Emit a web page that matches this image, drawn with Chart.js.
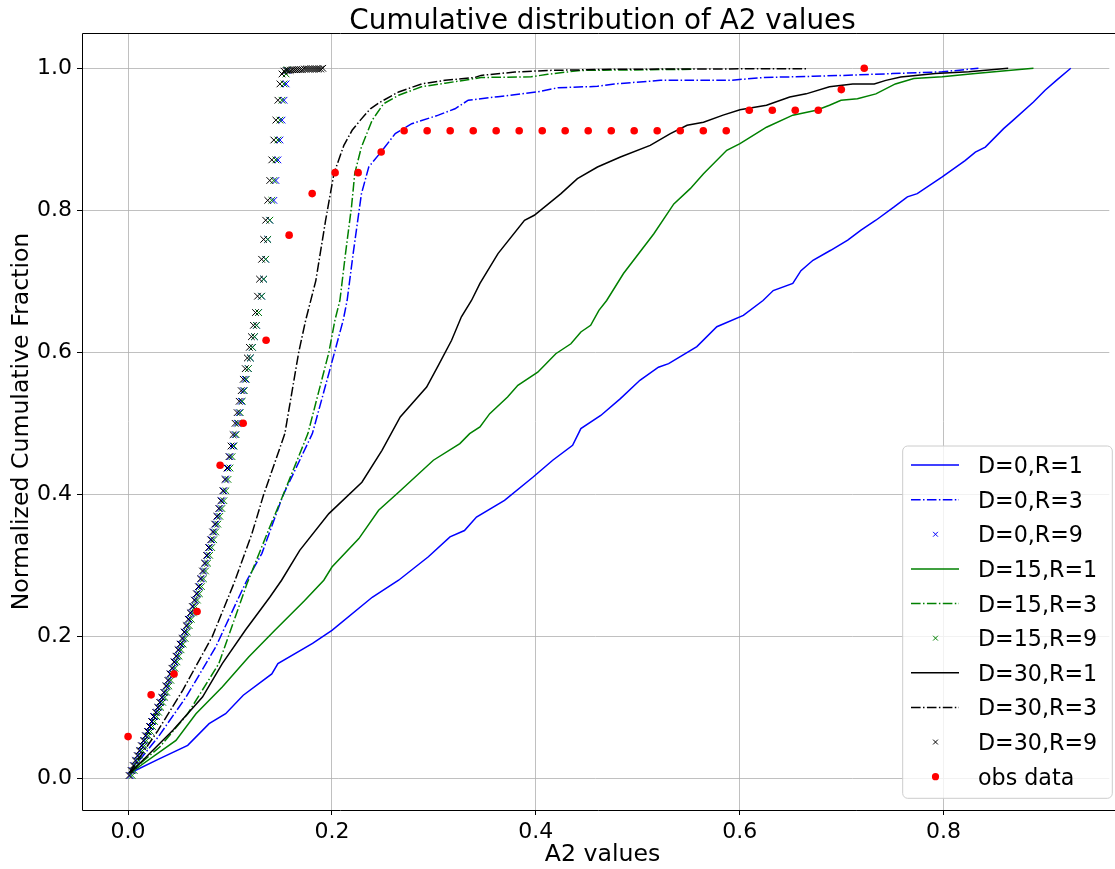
<!DOCTYPE html>
<html>
<head>
<meta charset="utf-8">
<script src="https://cdn.jsdelivr.net/npm/chart.js@4.4.0/dist/chart.umd.min.js"></script>
<style>
  html, body { margin: 0; padding: 0; background: #fff; overflow: hidden; }
  #wrap { width: 1115px; height: 869px; overflow: hidden; }
  canvas { display: block; }
</style>
</head>
<body>
<div id="wrap"><canvas id="cdf" width="1115" height="869"></canvas></div>
<script>
// axis ticks
const xTicks = [0.0, 0.2, 0.4, 0.6, 0.8];
const yTicks = [0.0, 0.2, 0.4, 0.6, 0.8, 1.0];

const seriesLabels = ['D=0,R=1', 'D=0,R=3', 'D=0,R=9', 'D=15,R=1', 'D=15,R=3', 'D=15,R=9',
                      'D=30,R=1', 'D=30,R=3', 'D=30,R=9', 'obs data'];

// D=0,R=1
const d0r1X = [0.002, 0.030, 0.0585, 0.0795, 0.0957, 0.113, 0.141, 0.147, 0.181, 0.200, 0.2395, 0.2654, 0.2946,
  0.3158, 0.330, 0.3418, 0.3693, 0.3971, 0.4166, 0.4361, 0.4442, 0.4637, 0.483, 0.5021, 0.5203, 0.5303, 0.558,
  0.5776, 0.6036, 0.6229, 0.6329, 0.6521, 0.6601, 0.6719, 0.6893, 0.706, 0.719, 0.7336, 0.7515, 0.7645, 0.7742,
  0.7987, 0.8211, 0.8312, 0.841, 0.8589, 0.8684, 0.8882, 0.8996, 0.9107, 0.9248];
const d0r1Y = [0.0075, 0.027, 0.0465, 0.077, 0.091, 0.117, 0.147, 0.1615, 0.19, 0.2085, 0.255, 0.279, 0.312,
  0.34, 0.349, 0.368, 0.3915, 0.424, 0.448, 0.469, 0.4925, 0.511, 0.5348, 0.5606, 0.579, 0.584, 0.608, 0.636,
  0.652, 0.673, 0.687, 0.697, 0.715, 0.7296, 0.7437, 0.758, 0.772, 0.786, 0.8047, 0.819, 0.8235, 0.847, 0.870,
  0.882, 0.889, 0.915, 0.927, 0.9525, 0.969, 0.983, 1.0];

// D=0,R=3
const d0r3X = [0.001, 0.0294, 0.0569, 0.086, 0.107, 0.1166, 0.1312, 0.152, 0.1808, 0.1986, 0.211, 0.2149, 0.2208,
  0.2289, 0.2361, 0.2475, 0.2621, 0.2783, 0.3044, 0.3207, 0.3337, 0.3629, 0.4015, 0.4216, 0.4605, 0.477, 0.5223,
  0.5907, 0.6229, 0.6722, 0.7014, 0.7497, 0.7987, 0.8342];
const d0r3Y = [0.0075, 0.058, 0.1145, 0.185, 0.25, 0.279, 0.3165, 0.3986, 0.4855, 0.579, 0.645, 0.673, 0.739,
  0.823, 0.861, 0.881, 0.908, 0.922, 0.934, 0.943, 0.955, 0.960, 0.9667, 0.9725, 0.9746, 0.978, 0.983, 0.983,
  0.987, 0.9887, 0.990, 0.9925, 0.995, 1.0];

// D=0,R=9
const d0r9X = [0.002, 0.004, 0.006, 0.008, 0.010, 0.012, 0.014, 0.016, 0.018, 0.020, 0.022, 0.024, 0.026, 0.028,
  0.030, 0.032, 0.034, 0.036, 0.038, 0.040, 0.042, 0.044, 0.046, 0.048, 0.050, 0.052, 0.054, 0.056, 0.058, 0.060,
  0.062, 0.064, 0.066, 0.068, 0.070, 0.072, 0.074, 0.076, 0.078, 0.080, 0.082, 0.084, 0.086, 0.088, 0.090, 0.092,
  0.094, 0.096, 0.098, 0.100, 0.103, 0.105, 0.107, 0.109, 0.111, 0.113, 0.115, 0.118, 0.120, 0.122, 0.124, 0.126,
  0.128, 0.131, 0.133, 0.135, 0.137, 0.139, 0.143, 0.145, 0.147, 0.149, 0.151, 0.153, 0.155, 0.156];
const d0r9Y = [0.004, 0.011, 0.018, 0.025, 0.032, 0.039, 0.046, 0.053, 0.060, 0.066, 0.073, 0.080, 0.087, 0.093,
  0.100, 0.107, 0.114, 0.121, 0.130, 0.138, 0.147, 0.155, 0.164, 0.172, 0.181, 0.189, 0.197, 0.206, 0.215, 0.224,
  0.233, 0.242, 0.251, 0.260, 0.270, 0.281, 0.292, 0.303, 0.314, 0.325, 0.336, 0.347, 0.358, 0.369, 0.380, 0.391,
  0.405, 0.421, 0.437, 0.453, 0.468, 0.484, 0.500, 0.515, 0.531, 0.546, 0.562, 0.577, 0.592, 0.607, 0.622, 0.638,
  0.656, 0.679, 0.703, 0.731, 0.759, 0.786, 0.814, 0.842, 0.871, 0.899, 0.927, 0.955, 0.978, 0.997];

// D=15,R=1
const d15r1X = [0.002, 0.047, 0.0666, 0.0924, 0.1183, 0.144, 0.173, 0.192, 0.200, 0.2264, 0.2458, 0.2654, 0.2995,
  0.3255, 0.3351, 0.3452, 0.3548, 0.3723, 0.3824, 0.4019, 0.4086, 0.4196, 0.4344, 0.4442, 0.4538, 0.4619, 0.4695,
  0.486, 0.5158, 0.5354, 0.5515, 0.5645, 0.5873, 0.6003, 0.6263, 0.6521, 0.6752, 0.6881, 0.6994, 0.7155, 0.7336,
  0.7527, 0.7708, 0.7987, 0.8312, 0.8634, 0.8882];
const d15r1Y = [0.0075, 0.0535, 0.091, 0.1286, 0.171, 0.2085, 0.25, 0.279, 0.2976, 0.3376, 0.3775, 0.403, 0.448,
  0.4714, 0.4855, 0.495, 0.5136, 0.537, 0.5535, 0.572, 0.5817, 0.598, 0.612, 0.6286, 0.638, 0.659, 0.673, 0.711,
  0.767, 0.809, 0.8305, 0.8516, 0.8845, 0.8939, 0.917, 0.934, 0.941, 0.948, 0.955, 0.957, 0.964, 0.978, 0.9855,
  0.988, 0.9925, 0.997, 1.0];

// D=15,R=3
const d15r3X = [0.001, 0.031, 0.0585, 0.089, 0.1166, 0.139, 0.152, 0.1764, 0.197, 0.2029, 0.2078, 0.2133, 0.2192,
  0.2224, 0.2289, 0.2395, 0.2506, 0.2654, 0.2878, 0.311, 0.3401, 0.3462, 0.3955, 0.4116, 0.4438, 0.5545];
const d15r3Y = [0.0075, 0.044, 0.091, 0.1615, 0.274, 0.354, 0.3986, 0.4855, 0.6, 0.645, 0.673, 0.739, 0.805,
  0.852, 0.889, 0.927, 0.950, 0.962, 0.974, 0.979, 0.9855, 0.987, 0.988, 0.9915, 0.997, 0.9986];

// D=15,R=9
const d15r9X = [0.004, 0.006, 0.008, 0.010, 0.012, 0.014, 0.016, 0.018, 0.020, 0.022, 0.024, 0.026, 0.028, 0.030,
  0.032, 0.034, 0.036, 0.038, 0.040, 0.042, 0.044, 0.046, 0.048, 0.050, 0.052, 0.054, 0.056, 0.058, 0.060, 0.062,
  0.064, 0.066, 0.068, 0.070, 0.072, 0.074, 0.076, 0.078, 0.080, 0.082, 0.084, 0.086, 0.088, 0.090, 0.092, 0.094,
  0.096, 0.098, 0.100, 0.102, 0.104, 0.106, 0.108, 0.110, 0.112, 0.114, 0.116, 0.118, 0.120, 0.122, 0.124, 0.126,
  0.128, 0.131, 0.133, 0.135, 0.137, 0.139, 0.141, 0.143, 0.145, 0.147, 0.149, 0.151, 0.153, 0.155, 0.156];
const d15r9Y = [0.004, 0.011, 0.018, 0.025, 0.032, 0.039, 0.046, 0.053, 0.060, 0.066, 0.073, 0.080, 0.087, 0.093,
  0.100, 0.107, 0.114, 0.121, 0.130, 0.138, 0.147, 0.155, 0.164, 0.172, 0.181, 0.189, 0.197, 0.206, 0.215, 0.224,
  0.233, 0.242, 0.251, 0.260, 0.270, 0.281, 0.292, 0.303, 0.314, 0.325, 0.336, 0.347, 0.358, 0.369, 0.380, 0.391,
  0.405, 0.421, 0.437, 0.453, 0.468, 0.484, 0.500, 0.515, 0.531, 0.546, 0.562, 0.577, 0.592, 0.607, 0.622, 0.638,
  0.656, 0.679, 0.703, 0.731, 0.759, 0.786, 0.814, 0.842, 0.871, 0.899, 0.927, 0.955, 0.978, 0.992, 0.998];

// D=30,R=1
const d30r1X = [0.002, 0.044, 0.073, 0.0924, 0.115, 0.139, 0.1506, 0.1684, 0.197, 0.2294, 0.2491, 0.267, 0.2929,
  0.3044, 0.3174, 0.327, 0.3369, 0.3452, 0.3629, 0.3889, 0.3985, 0.4247, 0.4408, 0.4605, 0.483, 0.5122, 0.532,
  0.5484, 0.5645, 0.5837, 0.6003, 0.6263, 0.6491, 0.6652, 0.6881, 0.7109, 0.732, 0.7434, 0.758, 0.792, 0.8247,
  0.8634];
const d30r1Y = [0.0075, 0.0676, 0.1145, 0.1615, 0.2085, 0.255, 0.279, 0.321, 0.3728, 0.417, 0.462, 0.509, 0.551,
  0.5817, 0.617, 0.65, 0.673, 0.697, 0.739, 0.786, 0.793, 0.8235, 0.8446, 0.861, 0.875, 0.8915, 0.908, 0.9197,
  0.924, 0.934, 0.9415, 0.948, 0.9596, 0.964, 0.974, 0.978, 0.978, 0.983, 0.9878, 0.9925, 0.995, 1.0];

// D=30,R=3
const d30r3X = [0.001, 0.0294, 0.0536, 0.0827, 0.1037, 0.1215, 0.1328, 0.1538, 0.1674, 0.1742, 0.1842, 0.1938,
  0.202, 0.2117, 0.2198, 0.2279, 0.2377, 0.2475, 0.2654, 0.2881, 0.311, 0.3401, 0.3462, 0.3794, 0.4116, 0.477,
  0.5535, 0.6652];
const d30r3Y = [0.0075, 0.0676, 0.124, 0.2, 0.274, 0.3446, 0.3986, 0.4855, 0.6, 0.645, 0.701, 0.786, 0.852,
  0.8915, 0.9127, 0.927, 0.943, 0.9525, 0.9667, 0.978, 0.983, 0.987, 0.990, 0.9947, 0.997, 0.9986, 0.999, 0.9995];

// D=30,R=9
const d30r9X = [0.001, 0.003, 0.005, 0.007, 0.009, 0.011, 0.013, 0.015, 0.017, 0.019, 0.021, 0.023, 0.025, 0.027,
  0.029, 0.031, 0.033, 0.035, 0.037, 0.039, 0.041, 0.043, 0.045, 0.047, 0.049, 0.051, 0.053, 0.055, 0.057, 0.059,
  0.061, 0.063, 0.065, 0.067, 0.069, 0.071, 0.073, 0.075, 0.077, 0.079, 0.081, 0.083, 0.085, 0.087, 0.089, 0.091,
  0.093, 0.095, 0.097, 0.099, 0.101, 0.103, 0.105, 0.107, 0.109, 0.111, 0.113, 0.115, 0.117, 0.119, 0.121, 0.123,
  0.125, 0.127, 0.129, 0.131, 0.133, 0.135, 0.137, 0.139, 0.141, 0.143, 0.145, 0.147, 0.149, 0.151, 0.153, 0.155,
  0.157, 0.159, 0.161, 0.163, 0.165, 0.167, 0.169, 0.171, 0.173, 0.175, 0.177, 0.179, 0.181, 0.183, 0.185, 0.187,
  0.189, 0.191];
const d30r9Y = [0.004, 0.011, 0.018, 0.025, 0.032, 0.039, 0.046, 0.053, 0.060, 0.066, 0.073, 0.080, 0.087, 0.093,
  0.100, 0.107, 0.114, 0.121, 0.130, 0.138, 0.147, 0.155, 0.164, 0.172, 0.181, 0.189, 0.197, 0.206, 0.215, 0.224,
  0.233, 0.242, 0.251, 0.260, 0.270, 0.281, 0.292, 0.303, 0.314, 0.325, 0.336, 0.347, 0.358, 0.369, 0.380, 0.391,
  0.405, 0.421, 0.437, 0.453, 0.468, 0.484, 0.500, 0.515, 0.531, 0.546, 0.562, 0.577, 0.592, 0.607, 0.622, 0.638,
  0.656, 0.679, 0.703, 0.731, 0.759, 0.786, 0.814, 0.842, 0.871, 0.899, 0.927, 0.955, 0.978, 0.992, 0.996, 0.997,
  0.997, 0.997, 0.998, 0.998, 0.998, 0.998, 0.998, 0.998, 0.999, 0.999, 0.999, 0.999, 0.999, 0.999, 0.999, 0.999,
  0.999, 1.0];

// observed data
const obsX = [0.0, 0.0226, 0.0451, 0.0677, 0.0903, 0.1129, 0.1354, 0.158, 0.1806, 0.2031, 0.2257, 0.2483, 0.2708,
  0.2934, 0.316, 0.3386, 0.3611, 0.3837, 0.4063, 0.4288, 0.4514, 0.474, 0.4965, 0.5191, 0.5417, 0.5643, 0.5868,
  0.6094, 0.632, 0.6545, 0.6771, 0.6997, 0.7222];
const obsY = [0.0588, 0.1176, 0.147, 0.235, 0.441, 0.5, 0.617, 0.765, 0.8235, 0.853, 0.853, 0.882, 0.912, 0.912,
  0.912, 0.912, 0.912, 0.912, 0.912, 0.912, 0.912, 0.912, 0.912, 0.912, 0.912, 0.912, 0.912, 0.941, 0.941,
  0.941, 0.941, 0.970, 1.0];

const FONT = "'DejaVu Sans', 'Liberation Sans', sans-serif";
const DASHDOT = [9.6, 2.4, 1.5, 2.4];
const BLUE = '#0000ff', GREEN = '#008000', BLACK = '#000000', RED = '#ff0000';
// the axes box runs a little past the right edge of the picture (no right spine visible)
const AXES_RIGHT = 1123;

function pts(xs, ys) {
    return xs.map((x, i) => ({ x: x, y: ys[i] }));
}

function lineSet(idx, xs, ys, color, dash) {
    return {
        label: seriesLabels[idx], data: pts(xs, ys), showLine: true,
        borderColor: color, backgroundColor: color, borderWidth: 1.5, borderDash: dash,
        pointRadius: 0, pointHoverRadius: 0, order: 20 - idx, kind: 'line'
    };
}

function markSet(idx, xs, ys, color, style, radius, bw) {
    return {
        label: seriesLabels[idx], data: pts(xs, ys), showLine: false,
        pointStyle: style, pointRadius: radius, pointHoverRadius: radius,
        pointBorderColor: color, pointBackgroundColor: color, pointBorderWidth: bw,
        borderColor: color, backgroundColor: color, order: 20 - idx, kind: 'mark'
    };
}

const datasets = [
    lineSet(0, d0r1X, d0r1Y, BLUE, []),
    lineSet(1, d0r3X, d0r3Y, BLUE, DASHDOT),
    markSet(2, d0r9X, d0r9Y, BLUE, 'crossRot', 4.7, 1),
    lineSet(3, d15r1X, d15r1Y, GREEN, []),
    lineSet(4, d15r3X, d15r3Y, GREEN, DASHDOT),
    markSet(5, d15r9X, d15r9Y, GREEN, 'crossRot', 4.7, 1),
    lineSet(6, d30r1X, d30r1Y, BLACK, []),
    lineSet(7, d30r3X, d30r3Y, BLACK, DASHDOT),
    markSet(8, d30r9X, d30r9Y, BLACK, 'crossRot', 4.7, 1),
    markSet(9, obsX, obsY, RED, 'circle', 3.8, 0)
];

// spines, title, x label and the boxed legend, matplotlib style
const decorPlugin = {
    id: 'decor',
    afterDatasetsDraw(chart) {
        const { ctx, chartArea: a } = chart;
        ctx.save();
        ctx.strokeStyle = '#000';
        ctx.lineWidth = 1;
        ctx.beginPath();
        ctx.moveTo(chart.width, a.top + 0.5);
        ctx.lineTo(a.left + 0.5, a.top + 0.5);
        ctx.lineTo(a.left + 0.5, a.bottom + 0.5);
        ctx.lineTo(chart.width, a.bottom + 0.5);
        ctx.stroke();
        ctx.restore();
    },
    afterDraw(chart) {
        const { ctx, chartArea: a } = chart;
        const midX = (a.left + AXES_RIGHT) / 2;
        ctx.save();
        ctx.fillStyle = '#000';
        ctx.textAlign = 'center';
        ctx.textBaseline = 'alphabetic';
        ctx.font = '27.8px ' + FONT;
        ctx.fillText('Cumulative distribution of A2 values', midX, a.top - 4);
        ctx.font = '23.6px ' + FONT;
        ctx.fillText('A2 values', midX, 861);

        // legend box
        const bx = 902.7, by = 446, bw = 209.6, bh = 352.3, r = 5;
        ctx.beginPath();
        ctx.moveTo(bx + r, by);
        ctx.arcTo(bx + bw, by, bx + bw, by + bh, r);
        ctx.arcTo(bx + bw, by + bh, bx, by + bh, r);
        ctx.arcTo(bx, by + bh, bx, by, r);
        ctx.arcTo(bx, by, bx + bw, by, r);
        ctx.closePath();
        ctx.fillStyle = 'rgba(255,255,255,0.8)';
        ctx.fill();
        ctx.strokeStyle = '#cccccc';
        ctx.lineWidth = 1;
        ctx.stroke();

        const rowH = 34.63;
        ctx.font = '22.2px ' + FONT;
        ctx.textAlign = 'left';
        chart.data.datasets.forEach((ds, i) => {
            const cy = 465 + i * rowH;
            if (ds.kind === 'line') {
                ctx.beginPath();
                ctx.setLineDash(ds.borderDash);
                ctx.strokeStyle = ds.borderColor;
                ctx.lineWidth = ds.borderWidth;
                ctx.moveTo(911, cy);
                ctx.lineTo(959, cy);
                ctx.stroke();
                ctx.setLineDash([]);
            } else {
                ctx.fillStyle = ds.pointBackgroundColor;
                ctx.strokeStyle = ds.pointBorderColor;
                ctx.lineWidth = ds.pointBorderWidth || 1;
                ctx.beginPath();
                if (ds.pointStyle === 'circle') {
                    ctx.arc(935.5, cy, 3.6, 0, Math.PI * 2);
                    ctx.fill();
                } else {
                    const h = 2.4;
                    ctx.moveTo(935.5 - h, cy - h); ctx.lineTo(935.5 + h, cy + h);
                    ctx.moveTo(935.5 - h, cy + h); ctx.lineTo(935.5 + h, cy - h);
                    ctx.stroke();
                }
            }
            ctx.fillStyle = '#000';
            ctx.fillText(ds.label, 978, cy + 8);
        });
        ctx.restore();
    }
};

new Chart(document.getElementById('cdf'), {
    type: 'scatter',
    data: { datasets: datasets },
    plugins: [decorPlugin],
    options: {
        responsive: false,
        animation: false,
        devicePixelRatio: 1,
        layout: { padding: { top: 33, right: 0, bottom: 0, left: 0 } },
        plugins: { legend: { display: false }, tooltip: { enabled: false }, title: { display: false } },
        elements: { line: { tension: 0, fill: false } },
        scales: {
            x: {
                type: 'linear', min: -0.0452, max: 0.9626,
                afterBuildTicks: s => { s.ticks = xTicks.map(v => ({ value: v })); },
                afterFit: s => { s.height = 59; s.paddingLeft = 0; s.paddingRight = 0; },
                grid: { color: '#b0b0b0', lineWidth: 0.8, tickLength: 5, tickColor: '#000', tickWidth: 1 },
                border: { display: false },
                ticks: {
                    font: { family: FONT, size: 22 }, color: '#000', padding: 4,
                    maxRotation: 0, autoSkip: false, callback: v => v.toFixed(1)
                },
                title: { display: false }
            },
            y: {
                type: 'linear', min: -0.0446, max: 1.0497,
                afterBuildTicks: s => { s.ticks = yTicks.map(v => ({ value: v })); },
                afterFit: s => { s.width = 82; s.paddingTop = 0; s.paddingBottom = 0; },
                grid: { color: '#b0b0b0', lineWidth: 0.8, tickLength: 5, tickColor: '#000', tickWidth: 1 },
                border: { display: false },
                ticks: {
                    font: { family: FONT, size: 22 }, color: '#000', padding: 5,
                    autoSkip: false, callback: v => v.toFixed(1)
                },
                title: {
                    display: true, text: 'Normalized Cumulative Fraction', color: '#000',
                    font: { family: FONT, size: 23.6 }, padding: { top: 8, bottom: 0 }
                }
            }
        }
    }
});
</script>
</body>
</html>
